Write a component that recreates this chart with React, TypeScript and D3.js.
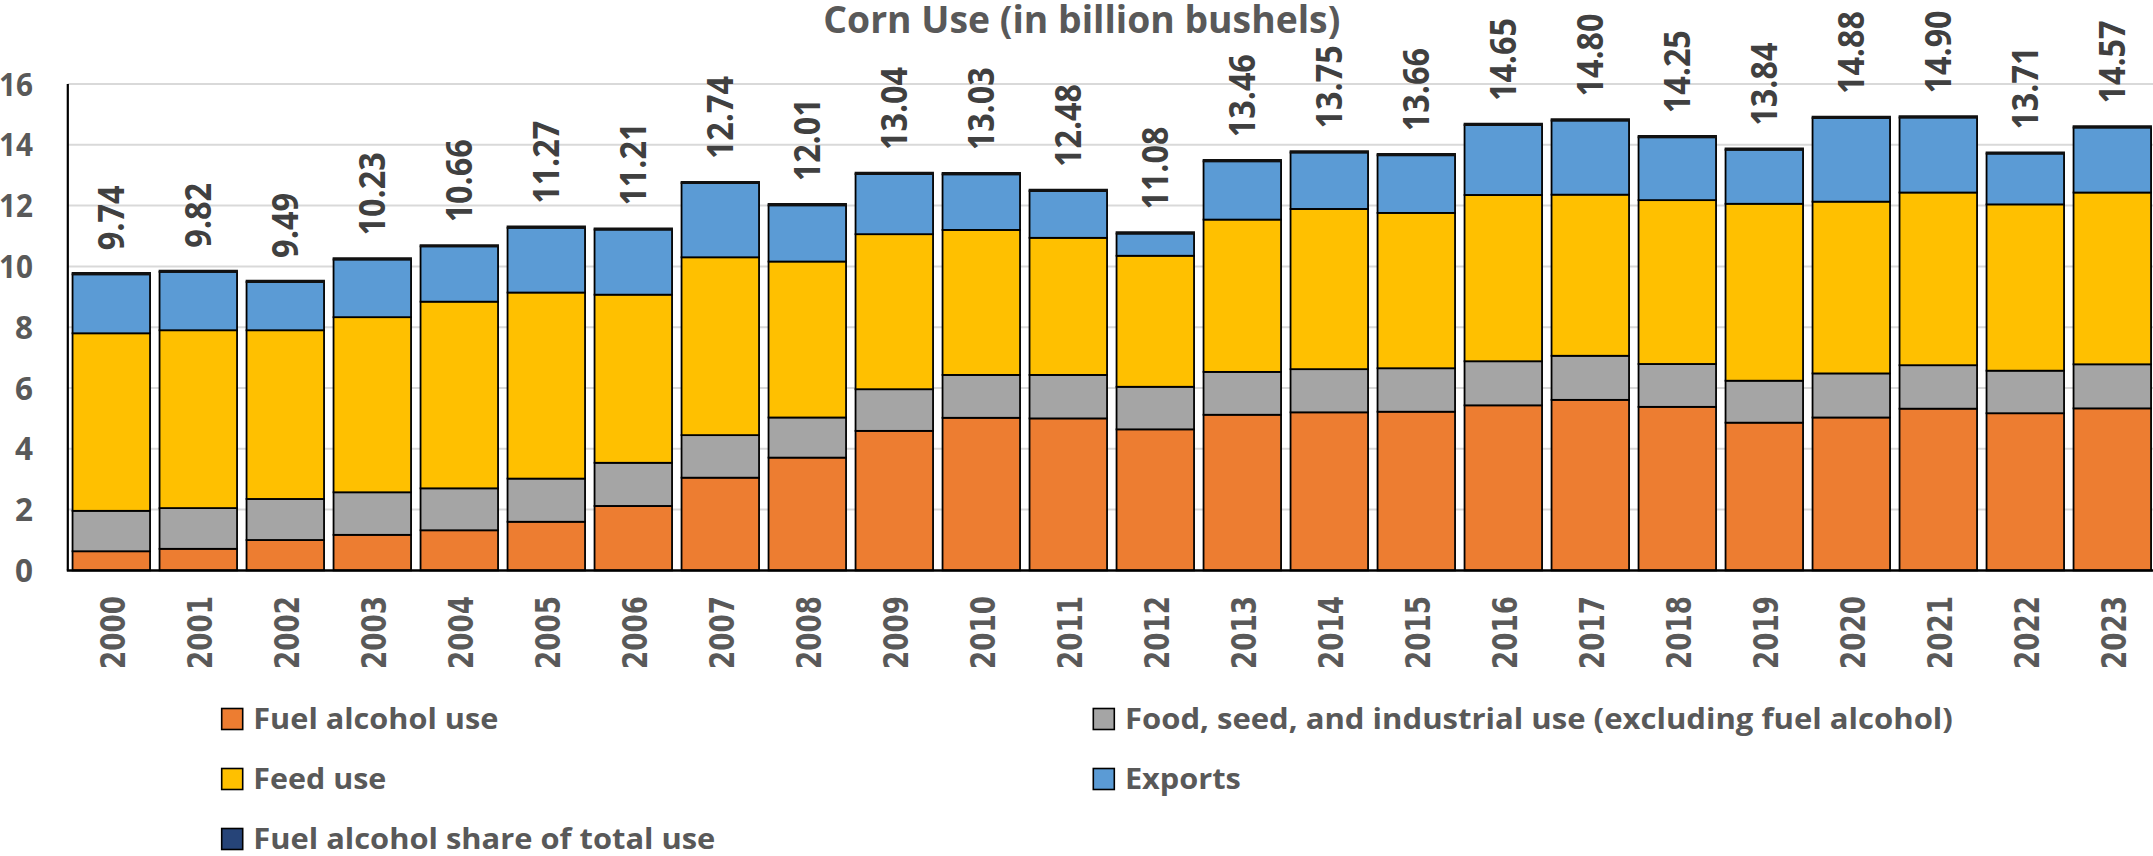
import React from "react";
import * as d3 from "d3";

const years = ["2000","2001","2002","2003","2004","2005","2006","2007","2008","2009","2010","2011","2012","2013","2014","2015","2016","2017","2018","2019","2020","2021","2022","2023"];
const fuelAlcohol = [0.63,0.71,1.00,1.17,1.32,1.60,2.12,3.05,3.71,4.59,5.02,5.00,4.64,5.12,5.20,5.22,5.43,5.61,5.38,4.86,5.03,5.32,5.17,5.33];
const foodSeedIndustrial = [1.33,1.34,1.35,1.40,1.38,1.42,1.42,1.40,1.32,1.37,1.41,1.43,1.40,1.41,1.42,1.43,1.45,1.45,1.41,1.38,1.45,1.43,1.40,1.45];
const feedUse = [5.84,5.85,5.55,5.76,6.14,6.12,5.53,5.85,5.13,5.10,4.77,4.51,4.31,5.01,5.27,5.11,5.47,5.30,5.39,5.82,5.65,5.68,5.47,5.65];
const exportsUse = [1.94,1.92,1.59,1.90,1.82,2.13,2.14,2.44,1.85,1.98,1.83,1.54,0.73,1.92,1.86,1.90,2.30,2.44,2.07,1.78,2.75,2.47,1.67,2.14];
const totalLabels = ["9.74","9.82","9.49","10.23","10.66","11.27","11.21","12.74","12.01","13.04","13.03","12.48","11.08","13.46","13.75","13.66","14.65","14.80","14.25","13.84","14.88","14.90","13.71","14.57"];
const yTicks = [0,2,4,6,8,10,12,14,16];

const seriesKeys = ["fuel","fsi","feed","exports"];
const seriesColors: Record<string,string> = { fuel: "#ED7D31", fsi: "#A5A5A5", feed: "#FFC000", exports: "#5B9BD5" };

const legendItems = [
  { label: "Fuel alcohol use", color: "#ED7D31", col: 0, row: 0, len: 245 },
  { label: "Food, seed, and industrial use (excluding fuel alcohol)", color: "#A5A5A5", col: 1, row: 0, len: 828 },
  { label: "Feed use", color: "#FFC000", col: 0, row: 1, len: 133 },
  { label: "Exports", color: "#5B9BD5", col: 1, row: 1, len: 116 },
  { label: "Fuel alcohol share of total use", color: "#264478", col: 0, row: 2, len: 462 },
];

const W = 2153, H = 856;
const X0 = 67.8;
const STEP = 87;
const Y_TOP = 84, Y_BASE = 570.4;
const TEXT = "#595959";

export default function App() {
  const rows = years.map((y, i) => ({
    year: y,
    fuel: fuelAlcohol[i],
    fsi: foodSeedIndustrial[i],
    feed: feedUse[i],
    exports: exportsUse[i],
  }));
  const stacked = d3.stack<any>().keys(seriesKeys)(rows);
  const x = d3.scaleBand<string>().domain(years).range([X0, X0 + STEP * years.length]).paddingInner(0.109).paddingOuter(0.0545);
  const y = d3.scaleLinear().domain([0, 16]).range([Y_BASE, Y_TOP]);
  const totals = rows.map((r) => r.fuel + r.fsi + r.feed + r.exports);
  const legendX = [221.7, 1093.3];
  const legendY = [719, 779, 839];

  return (
    <svg width={W} height={H} style={{ display: "block", position: "absolute", left: 0, top: 0 }} fontFamily="'Open Sans', sans-serif">
      <style>{`body{margin:0;overflow:hidden}`}</style>
      <rect width={W} height={H} fill="#fff" />
      {/* title */}
      <text x={823.3} y={33} fontSize={37} fontWeight={700} fill={TEXT} textLength={517} lengthAdjust="spacingAndGlyphs">Corn Use (in billion bushels)</text>
      {/* gridlines */}
      {yTicks.filter((t) => t > 0).map((t) => (
        <line key={t} x1={X0} x2={W} y1={y(t)} y2={y(t)} stroke="#D9D9D9" strokeWidth={2} />
      ))}
      {/* y tick labels */}
      {yTicks.map((t) => (
        <text key={t} x={33} y={y(t)} dy="0.36em" textAnchor="end" fontSize={32} fontWeight={700} fill={TEXT}
          textLength={String(t).length === 1 ? 18 : 34} lengthAdjust="spacingAndGlyphs">{t}</text>
      ))}
      {/* bars */}
      {stacked.map((s) => (
        <g key={s.key} fill={seriesColors[s.key]}>
          {s.map((d, i) => (
            <rect key={i} x={x(years[i])} y={y(d[1])} width={x.bandwidth()} height={y(d[0]) - y(d[1])} stroke="#000" strokeWidth={1.8} />
          ))}
        </g>
      ))}
      {/* thick top edge (fuel alcohol share marker) */}
      {totals.map((t, i) => (
        <line key={i} x1={(x(years[i]) as number) - 0.9} x2={(x(years[i]) as number) + x.bandwidth() + 0.9} y1={y(t) - 0.6} y2={y(t) - 0.6} stroke="#111" strokeWidth={3.2} />
      ))}
      {/* axes */}
      <line x1={X0} x2={X0} y1={Y_TOP} y2={Y_BASE} stroke="#000" strokeWidth={2.2} />
      <line x1={X0 - 1} x2={W} y1={Y_BASE} y2={Y_BASE} stroke="#000" strokeWidth={2.5} />
      {/* value labels */}
      {totals.map((t, i) => {
        const cx = (x(years[i]) as number) + x.bandwidth() / 2;
        const yy = y(t) - 24;
        return (
          <text key={i} transform={`translate(${cx},${yy}) rotate(-90)`} dy="0.36em" textAnchor="start" fontSize={36} fontWeight={700} fill="#404040"
            textLength={totalLabels[i].length === 4 ? 65 : 83} lengthAdjust="spacingAndGlyphs">{totalLabels[i]}</text>
        );
      })}
      {/* year labels */}
      {years.map((yr) => {
        const cx = (x(yr) as number) + x.bandwidth() / 2;
        return (
          <text key={yr} transform={`translate(${cx + 1},596) rotate(-90)`} dy="0.36em" textAnchor="end" fontSize={34} fontWeight={700} fill={TEXT}
            fontFamily="'DejaVu Sans', sans-serif" textLength={73} lengthAdjust="spacingAndGlyphs">{yr}</text>
        );
      })}
      {/* legend */}
      {legendItems.map((it) => (
        <g key={it.label}>
          <rect x={legendX[it.col]} y={legendY[it.row] - 10.5} width={21} height={21} fill={it.color} stroke="#000" strokeWidth={1.6} />
          <text x={legendX[it.col] + 31.6} y={legendY[it.row] + 10} fontSize={28} fontWeight={700} fill={TEXT} textLength={it.len} lengthAdjust="spacingAndGlyphs">{it.label}</text>
        </g>
      ))}
    </svg>
  );
}
